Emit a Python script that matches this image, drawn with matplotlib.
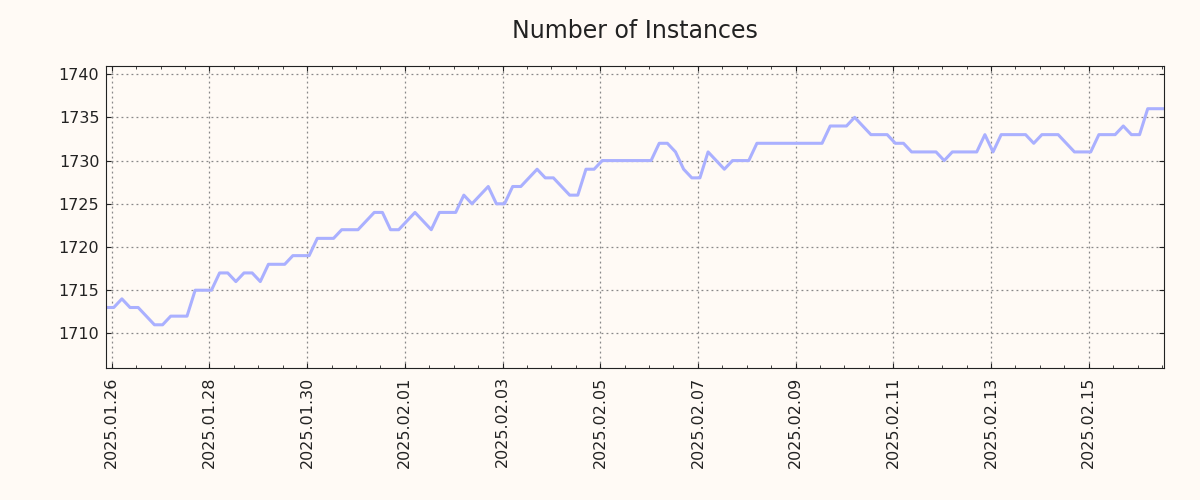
import matplotlib
matplotlib.use("Agg")
from matplotlib import pyplot as plt
import matplotlib.dates as mdates
import numpy as np
import pandas as pd

# samples every 4 hours, first one at 2025-01-25 21:00
start = "2025-01-25 21:00"
step = "4h"
instances = [
    1713, 1713, 1714, 1713, 1713, 1712, 1711, 1711, 1712, 1712,
    1712, 1715, 1715, 1715, 1717, 1717, 1716, 1717, 1717, 1716,
    1718, 1718, 1718, 1719, 1719, 1719, 1721, 1721, 1721, 1722,
    1722, 1722, 1723, 1724, 1724, 1722, 1722, 1723, 1724, 1723,
    1722, 1724, 1724, 1724, 1726, 1725, 1726, 1727, 1725, 1725,
    1727, 1727, 1728, 1729, 1728, 1728, 1727, 1726, 1726, 1729,
    1729, 1730, 1730, 1730, 1730, 1730, 1730, 1730, 1732, 1732,
    1731, 1729, 1728, 1728, 1731, 1730, 1729, 1730, 1730, 1730,
    1732, 1732, 1732, 1732, 1732, 1732, 1732, 1732, 1732, 1734,
    1734, 1734, 1735, 1734, 1733, 1733, 1733, 1732, 1732, 1731,
    1731, 1731, 1731, 1730, 1731, 1731, 1731, 1731, 1733, 1731,
    1733, 1733, 1733, 1733, 1732, 1733, 1733, 1733, 1732, 1731,
    1731, 1731, 1733, 1733, 1733, 1734, 1733, 1733, 1736, 1736,
    1736,
]
major_days = pd.date_range("2025-01-26", "2025-02-15", freq="2D")

times = pd.date_range(start, periods=len(instances), freq=step)
bg = "#fffaf5"

fig = plt.figure(figsize=(12, 5), dpi=100, facecolor=bg)
ax = fig.add_axes([0.088, 0.264, 0.882, 0.605], facecolor=bg)

ax.plot(times, instances, color="#aab0ff", linewidth=2.2)

ax.set_xlim(times[0], times[-1])
ax.set_ylim(min(instances) - 5, max(instances) + 5)

ax.xaxis.set_major_locator(matplotlib.ticker.FixedLocator(mdates.date2num(major_days)))
ax.xaxis.set_minor_locator(mdates.HourLocator(byhour=[0, 12]))
ax.xaxis.set_major_formatter(mdates.DateFormatter("%Y.%m.%d"))
ax.yaxis.set_major_locator(matplotlib.ticker.MultipleLocator(5))

ax.tick_params(which="both", direction="in", top=True, right=True, colors="#222222", labelsize=11.5)
ax.tick_params(axis="x", which="major", pad=6, labelrotation=90)
ax.tick_params(axis="y", pad=4.5)
ax.grid(True, which="major", linestyle=(0, (1.5, 2.5)), color="#888888", linewidth=0.9)
for s in ax.spines.values():
    s.set_color("#222222")

ax.set_title("Number of Instances", fontsize=17, color="#222222", pad=20)

fig.savefig("out.png", facecolor=bg)
